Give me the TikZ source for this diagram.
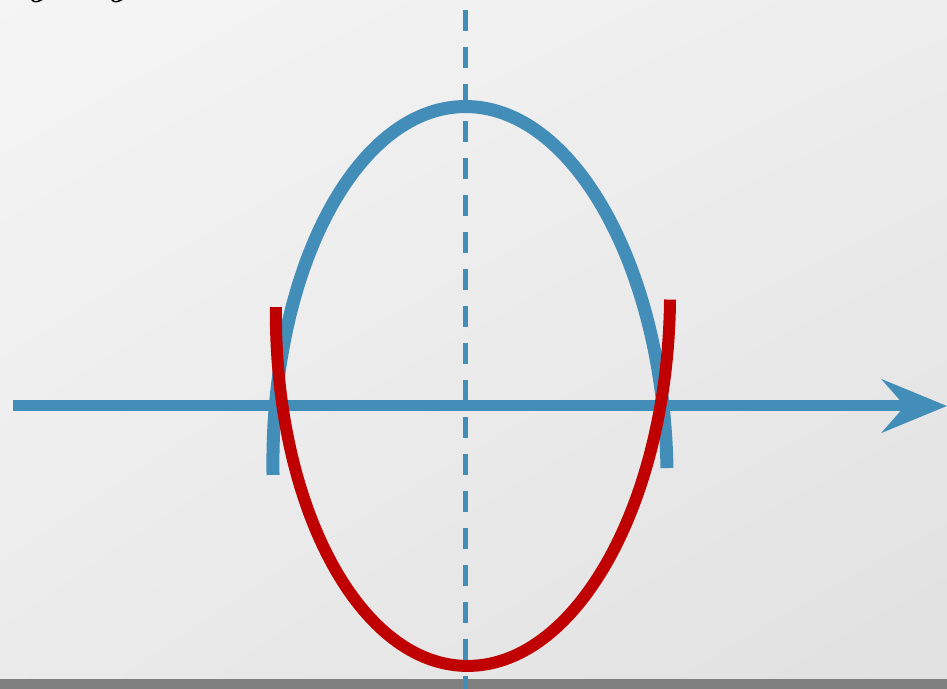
\documentclass[tikz,border=0pt]{standalone}
\usepackage{amsmath,amssymb}
\usepackage{xcolor}
\usepackage{tikz}
\usetikzlibrary{arrows.meta,positioning,calc,shadings}
\definecolor{ink}{HTML}{428EB9}
\definecolor{rust}{HTML}{C00000}
\definecolor{bar}{HTML}{808080}
\tikzset{
  bluecurve/.style={ink,line width=0.26cm,line cap=butt},
  redcurve/.style={rust,line width=0.24cm,line cap=butt},
  axisline/.style={ink,line width=0.22cm,-{Stealth[length=1.3cm,width=1.06cm,inset=0.46cm]}},
  midline/.style={ink,line width=0.1cm,dash pattern=on 0.42cm off 0.32cm},
  cutlabel/.style={anchor=base,font=\huge\boldmath,inner sep=0pt},
}

\begin{document}
\begin{tikzpicture}[x=0.02cm,y=0.02cm]
  \useasboundingbox (0,0) rectangle (947,689);
  \clip (0,0) rectangle (947,689);
  \shade[upper left=white!96!black,upper right=white!93!black,lower left=white!92!black,lower right=white!88!black] (0,0) rectangle (947,689);
  \fill[bar] (0,0) rectangle (947,10);
  % partly visible labels
  \node[cutlabel] (ya) at (40,693) {$y$};
  \node[cutlabel] (yb) at (120,693) {$y$};
  % upper (blue) and lower (red) halves
  \coordinate (cblue) at (470,217.5);
  \coordinate (cred) at (473,386);
  \draw[bluecurve,rotate around={1:(cblue)}] ($(cblue)+(-197,0)$) arc[start angle=180,end angle=0,x radius=197,y radius=365];
  \coordinate (xstart) at (13,283);
  \coordinate (xend) at (947,283);
  \draw[axisline] (xstart) -- (xend);
  \draw[redcurve,rotate around={-1.2:(cred)}] ($(cred)+(181.3:197 and 363)$) arc[start angle=181.3,end angle=361.2,x radius=197,y radius=363];
  \coordinate (vtop) at (465,716);
  \coordinate (vbot) at (465,-5);
  \draw[midline] (vtop) -- (vbot);
\end{tikzpicture}
\end{document}
